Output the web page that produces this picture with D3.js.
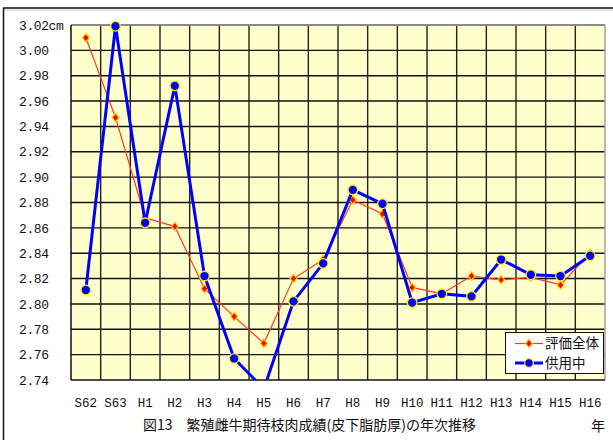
<!DOCTYPE html>
<html>
<head>
<meta charset="utf-8">
<script src="https://cdn.jsdelivr.net/npm/d3@7"></script>
<style>
  html, body { margin: 0; padding: 0; background: #fff; }
  svg { display: block; }
  .mono { font-family: "Liberation Mono", "DejaVu Sans Mono", monospace; fill: #111; }
  .jp { font-family: "Noto Sans CJK JP", sans-serif; fill: #111; }
</style>
</head>
<body>
<svg id="chart" width="613" height="440"></svg>
<script>
// Years (Showa 62 – Heisei 16)
const categories = ["S62", "S63", "H1", "H2", "H3", "H4", "H5", "H6", "H7", "H8",
                    "H9", "H10", "H11", "H12", "H13", "H14", "H15", "H16"];

// Subcutaneous fat thickness (cm)
const seriesAll = [3.010, 2.947, 2.868, 2.861, 2.812, 2.790, 2.769, 2.820, 2.835, 2.882,
                   2.871, 2.813, 2.808, 2.822, 2.819, 2.821, 2.815, 2.840];
const seriesInUse = [2.811, 3.019, 2.864, 2.972, 2.822, 2.757, 2.733, 2.802, 2.832, 2.890,
                     2.879, 2.801, 2.808, 2.806, 2.835, 2.823, 2.822, 2.838];

const seriesNames = ["評価全体", "供用中"];
const yTicks = [2.74, 2.76, 2.78, 2.80, 2.82, 2.84, 2.86, 2.88, 2.90, 2.92, 2.94, 2.96, 2.98, 3.00, 3.02];
const yTickLabels = yTicks.map((v, i) => v.toFixed(2) + (i === yTicks.length - 1 ? "cm" : ""));
const title = "図13　繁殖雌牛期待枝肉成績(皮下脂肪厚)の年次推移";
const xUnit = "年";

const svg = d3.select("#chart");
const plot = { left: 71, right: 605, top: 25, bottom: 380 };

const x = d3.scaleBand().domain(categories).range([plot.left, plot.right]);
const y = d3.scaleLinear().domain([2.74, 3.02]).range([plot.bottom, plot.top]);
const cx = c => x(c) + x.bandwidth() / 2;

// outer frame
svg.append("line").attr("x1", 3).attr("x2", 613).attr("y1", 10).attr("y2", 10)
  .attr("stroke", "#c8c8c8").attr("stroke-width", 1);
svg.append("line").attr("x1", 3).attr("x2", 613).attr("y1", 8).attr("y2", 8)
  .attr("stroke", "#111").attr("stroke-width", 1.5);
svg.append("line").attr("x1", 3.5).attr("x2", 3.5).attr("y1", 8).attr("y2", 440)
  .attr("stroke", "#111").attr("stroke-width", 1.5);

// plot background
svg.append("rect")
  .attr("x", plot.left).attr("y", plot.top)
  .attr("width", plot.right - plot.left).attr("height", plot.bottom - plot.top)
  .attr("fill", "#ffffcc");

// horizontal grid
svg.append("g").selectAll("line")
  .data(yTicks.slice(1, -1))
  .join("line")
  .attr("x1", plot.left).attr("x2", plot.right)
  .attr("y1", d => y(d)).attr("y2", d => y(d))
  .attr("stroke", "#111").attr("stroke-width", 1.4);

// vertical grid at category boundaries
svg.append("g").selectAll("line")
  .data(categories.slice(1))
  .join("line")
  .attr("x1", d => x(d)).attr("x2", d => x(d))
  .attr("y1", plot.top).attr("y2", plot.bottom)
  .attr("stroke", "#222").attr("stroke-width", 1.4);

// plot border: grey top/right, black axes left/bottom
svg.append("line").attr("x1", plot.left).attr("x2", plot.right).attr("y1", plot.top).attr("y2", plot.top)
  .attr("stroke", "#8a8a8a").attr("stroke-width", 2);
svg.append("line").attr("x1", plot.right).attr("x2", plot.right).attr("y1", plot.top).attr("y2", plot.bottom)
  .attr("stroke", "#a0a0a0").attr("stroke-width", 1.5);
svg.append("line").attr("x1", plot.left).attr("x2", plot.left).attr("y1", plot.top).attr("y2", plot.bottom)
  .attr("stroke", "#111").attr("stroke-width", 1.5);
svg.append("line").attr("x1", plot.left).attr("x2", plot.right).attr("y1", plot.bottom).attr("y2", plot.bottom)
  .attr("stroke", "#111").attr("stroke-width", 1.5);

// y tick labels
svg.append("g").selectAll("text")
  .data(yTicks)
  .join("text")
  .attr("class", "mono")
  .attr("x", 19)
  .attr("y", d => y(d))
  .attr("dy", "0.36em")
  .attr("font-size", 13)
  .attr("letter-spacing", -0.4)
  .text((d, i) => yTickLabels[i]);

// x tick labels
svg.append("g").selectAll("text")
  .data(categories)
  .join("text")
  .attr("class", "mono")
  .attr("x", d => cx(d))
  .attr("y", 402)
  .attr("dy", "0.36em")
  .attr("text-anchor", "middle")
  .attr("font-size", 12.5)
  .text(d => d);

// clip series to the plot area
svg.append("clipPath").attr("id", "plotClip")
  .append("rect")
  .attr("x", plot.left).attr("y", plot.top - 8)
  .attr("width", plot.right - plot.left + 8).attr("height", plot.bottom - plot.top + 8);

const line = d3.line().x((d, i) => cx(categories[i])).y(d => y(d));
const series = svg.append("g").attr("clip-path", "url(#plotClip)");

const diamond = d3.symbol().type(d3.symbolDiamond).size(26);

// 評価全体 (red thin line, diamond markers)
series.append("path")
  .datum(seriesAll)
  .attr("d", line)
  .attr("fill", "none")
  .attr("stroke", "#ff3a1a")
  .attr("stroke-width", 1.2);
series.append("g").selectAll("path")
  .data(seriesAll)
  .join("path")
  .attr("transform", (d, i) => `translate(${cx(categories[i])},${y(d)}) scale(1.25,0.9)`)
  .attr("d", diamond)
  .attr("fill", "#ff0000")
  .attr("stroke", "#ffd400")
  .attr("stroke-width", 1.1);

// 供用中 (blue thick line, circle markers)
series.append("path")
  .datum(seriesInUse)
  .attr("d", line)
  .attr("fill", "none")
  .attr("stroke", "#0000ff")
  .attr("stroke-width", 3);
series.append("g").selectAll("circle")
  .data(seriesInUse)
  .join("circle")
  .attr("cx", (d, i) => cx(categories[i]))
  .attr("cy", d => y(d))
  .attr("r", 4.8)
  .attr("fill", "#0000ff")
  .attr("stroke", "#ffee00")
  .attr("stroke-width", 1.3);

// legend
const lg = svg.append("g");
lg.append("rect")
  .attr("x", 505.5).attr("y", 332.5).attr("width", 98).attr("height", 41)
  .attr("fill", "#fff").attr("stroke", "#111").attr("stroke-width", 1);
const rows = [
  { name: seriesNames[0], y: 343.5, color: "#ff3a1a", width: 1.2, marker: "diamond" },
  { name: seriesNames[1], y: 363, color: "#0000ff", width: 3, marker: "circle" }
];
rows.forEach(r => {
  lg.append("line").attr("x1", 515).attr("x2", 543).attr("y1", r.y).attr("y2", r.y)
    .attr("stroke", r.color).attr("stroke-width", r.width);
  if (r.marker === "diamond") {
    lg.append("path").attr("transform", `translate(529,${r.y}) scale(1.25,0.9)`).attr("d", diamond)
      .attr("fill", "#ff0000").attr("stroke", "#ffd400").attr("stroke-width", 1.1);
  } else {
    lg.append("circle").attr("cx", 529).attr("cy", r.y).attr("r", 4.3)
      .attr("fill", "#0000ff").attr("stroke", "#ffee00").attr("stroke-width", 1.2);
  }
  lg.append("text").attr("class", "jp").attr("x", 545).attr("y", r.y)
    .attr("dy", "0.36em").attr("font-size", 13.5).text(r.name);
});

// title and unit
svg.append("text").attr("class", "jp")
  .attr("x", 143).attr("y", 425).attr("dy", "0.36em")
  .attr("font-size", 14).text(title);
svg.append("text").attr("class", "jp")
  .attr("x", 591).attr("y", 426).attr("dy", "0.36em")
  .attr("font-size", 14).text(xUnit);
</script>
</body>
</html>
